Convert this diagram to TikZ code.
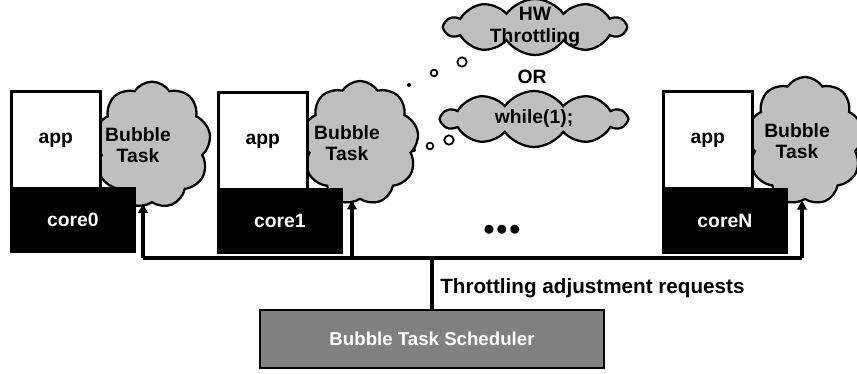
\documentclass[tikz,border=0pt]{standalone}
\usepackage{fontspec}
\setmainfont{Liberation Sans}
\usetikzlibrary{shapes.symbols,arrows.meta}
\begin{document}
\begin{tikzpicture}[x=0.75pt,y=-0.75pt,
  font=\fontsize{14.5}{16}\selectfont\bfseries,
  bubble/.style={cloud,cloud puffs=9,cloud puff arc=115,cloud ignores aspect,draw=black,line width=1.7pt,
    fill=black!25,inner sep=0pt},
  thought/.style={cloud,cloud puffs=10,cloud puff arc=110,cloud ignores aspect,draw=black,line width=1.7pt,
    fill=black!25,inner sep=0pt},
  appbox/.style={draw=black,line width=2pt,fill=white,anchor=north west,
    minimum width=66.75pt,minimum height=72.75pt,inner sep=0pt},
  corebox/.style={draw=black,line width=2pt,fill=black,anchor=north west,
    minimum width=92.25pt,minimum height=47.25pt,inner sep=0pt},
  bus/.style={line width=2.8pt},
  busarrow/.style={line width=2.8pt,-{Triangle[length=7pt,width=7pt]}},
  puff/.style={circle,draw=black,line width=1.3pt,fill=white,inner sep=0pt},
  lbl/.style={inner sep=0pt,align=center}]
\useasboundingbox (0,0) rectangle (857,374);

% bubble task clouds (drawn first, the boxes cover their left side)
\node[bubble,minimum width=88pt,minimum height=95pt] (cl0) at (152,145) {};
\node[bubble,minimum width=88pt,minimum height=93pt] (cl1) at (360,143) {};
\node[bubble,minimum width=88pt,minimum height=96pt] (clN) at (805,141) {};

% application and core boxes
\node[appbox] (app0) at (10,90) {};
\node[corebox] (core0) at (10,187) {};
\node[appbox] (app1) at (217,91) {};
\node[corebox] (core1) at (217,188) {};
\node[appbox] (appN) at (662,90) {};
\node[corebox] (coreN) at (662,188) {};

\node[lbl] (t-app0) at (app0.center) {app};
\node[lbl] (t-app1) at (app1.center) {app};
\node[lbl] (t-appN) at (appN.center) {app};
\node[lbl,text=white] (t-core0) at (core0.center) {core0};
\node[lbl,text=white] (t-core1) at (core1.center) {core1};
\node[lbl,text=white] (t-coreN) at (coreN.center) {coreN};
\node[lbl] (t-cl0) at (138,145) {Bubble\\Task};
\node[lbl] (t-cl1) at (347,143) {Bubble\\Task};
\node[lbl] (t-clN) at (797,141) {Bubble\\Task};

\node[lbl,font=\fontsize{16}{16}\selectfont\bfseries] (dots) at (502,230) {$\bullet\!\bullet\!\bullet$};

% thought clouds
\node[thought,minimum width=135pt,minimum height=42pt] (hw) at (535,27) {};
\node[lbl] (t-hw) at (hw.center) {HW\\Throttling};
\node[lbl] (or) at (532,77) {OR};
\node[thought,minimum width=138pt,minimum height=42pt] (wh) at (534,119) {};
\node[lbl] (t-wh) at (wh.center) {while(1);};

\node[puff,minimum size=7pt] (p1) at (462,62) {};
\node[puff,minimum size=5pt] (p2) at (434,73) {};
\node[circle,fill=black,inner sep=0pt,minimum size=3pt] (p3) at (409,85) {};
\node[puff,minimum size=7pt] (q1) at (449,140) {};
\node[puff,minimum size=5pt] (q2) at (430,146) {};
\node[circle,fill=black,inner sep=0pt,minimum size=3pt] (q3) at (414,150) {};

% scheduler and request bus
\node[draw=black,line width=2pt,fill=black!50,minimum width=258pt,minimum height=43.5pt,
  text=white,inner sep=0pt,font=\fontsize{14}{16}\selectfont\bfseries] (sched) at (432,339) {Bubble Task Scheduler};
\coordinate (b0) at (143,258);
\coordinate (b1) at (352,258);
\coordinate (bN) at (802,258);
\coordinate (bm) at (432,258);
\draw[bus] (b0) -- (bN);
\draw[bus] (bm) -- (sched.north);
\draw[busarrow] (b0) -- (b0 |- cl0.south);
\draw[busarrow] (b1) -- (b1 |- cl1.south);
\draw[busarrow] (bN) -- (bN |- clN.south);
\node[lbl,anchor=west,font=\fontsize{15.5}{17}\selectfont\bfseries] (req) at (440,288) {Throttling adjustment requests};
\end{tikzpicture}
\end{document}
